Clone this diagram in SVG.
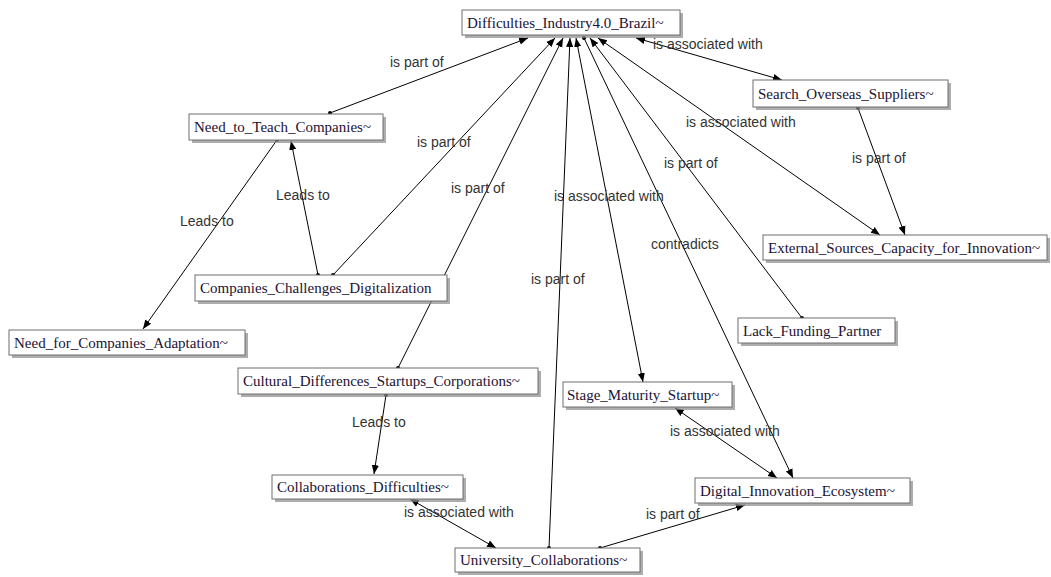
<svg xmlns="http://www.w3.org/2000/svg" width="1051" height="577" viewBox="0 0 1051 577">
<defs>
<marker id="ah" viewBox="0 0 10 10" refX="10" refY="5" markerWidth="9" markerHeight="9" markerUnits="userSpaceOnUse" orient="auto-start-reverse"><path d="M0,1 L10,5 L0,9 z" fill="#000"/></marker>
<marker id="dot" viewBox="0 0 6 6" refX="3" refY="3" markerWidth="4" markerHeight="4" markerUnits="userSpaceOnUse"><circle cx="3" cy="3" r="3" fill="#000"/></marker>
</defs>
<style>
.sh{fill:#8a8a8a;opacity:0.7}
.box{fill:#fff;stroke:#6e6e6e;stroke-width:1}
.nt{font-family:"Liberation Serif",serif;font-size:15px;fill:#221133}
.e{stroke:#000;stroke-width:1;fill:none}
.lb{font-family:"Liberation Sans",sans-serif;font-size:14px;fill:#333}
</style>
<rect width="1051" height="577" fill="#fff"/>
<g id="connectors">
<line class="e" x1="330" y1="113" x2="528" y2="38" marker-start="url(#dot)" marker-end="url(#ah)"/>
<line class="e" x1="333" y1="275" x2="555" y2="38" marker-start="url(#dot)" marker-end="url(#ah)"/>
<line class="e" x1="398" y1="368" x2="563" y2="38" marker-start="url(#dot)" marker-end="url(#ah)"/>
<line class="e" x1="549" y1="548" x2="570" y2="38" marker-start="url(#dot)" marker-end="url(#ah)"/>
<line class="e" x1="643" y1="382" x2="576" y2="38" marker-start="url(#ah)" marker-end="url(#ah)"/>
<line class="e" x1="584" y1="38" x2="793" y2="478" marker-start="url(#dot)" marker-end="url(#ah)"/>
<line class="e" x1="802" y1="318" x2="590" y2="38" marker-start="url(#dot)" marker-end="url(#ah)"/>
<line class="e" x1="880" y1="235" x2="598" y2="38" marker-start="url(#ah)" marker-end="url(#ah)"/>
<line class="e" x1="636" y1="38" x2="782" y2="80" marker-start="url(#ah)" marker-end="url(#ah)"/>
<line class="e" x1="858" y1="108" x2="905" y2="235" marker-start="url(#dot)" marker-end="url(#ah)"/>
<line class="e" x1="277" y1="140" x2="143" y2="329" marker-start="url(#dot)" marker-end="url(#ah)"/>
<line class="e" x1="318" y1="275" x2="291" y2="141" marker-start="url(#dot)" marker-end="url(#ah)"/>
<line class="e" x1="386" y1="395" x2="374" y2="474" marker-start="url(#dot)" marker-end="url(#ah)"/>
<line class="e" x1="410" y1="499" x2="496" y2="548" marker-start="url(#ah)" marker-end="url(#ah)"/>
<line class="e" x1="600" y1="548" x2="745" y2="505" marker-start="url(#dot)" marker-end="url(#ah)"/>
<line class="e" x1="675" y1="408" x2="777" y2="478" marker-start="url(#ah)" marker-end="url(#ah)"/>
<text class="lb" x="390" y="67">is part of</text>
<text class="lb" x="417" y="147">is part of</text>
<text class="lb" x="451" y="193">is part of</text>
<text class="lb" x="531" y="284">is part of</text>
<text class="lb" x="554" y="201">is associated with</text>
<text class="lb" x="651" y="249">contradicts</text>
<text class="lb" x="664" y="168">is part of</text>
<text class="lb" x="686" y="127">is associated with</text>
<text class="lb" x="653" y="49">is associated with</text>
<text class="lb" x="852" y="163">is part of</text>
<text class="lb" x="180" y="226">Leads to</text>
<text class="lb" x="276" y="200">Leads to</text>
<text class="lb" x="352" y="427">Leads to</text>
<text class="lb" x="404" y="517">is associated with</text>
<text class="lb" x="646" y="519">is part of</text>
<text class="lb" x="670" y="436">is associated with</text>
</g>
<g id="n1"><rect class="sh" x="465" y="13" width="218" height="25"/><rect class="box" x="462" y="10" width="218" height="25"/><text class="nt" x="467" y="28">Difficulties_Industry4.0_Brazil~</text></g>
<g id="n2"><rect class="sh" x="192" y="117" width="194" height="26"/><rect class="box" x="189" y="114" width="194" height="26"/><text class="nt" x="194" y="132">Need_to_Teach_Companies~</text></g>
<g id="n3"><rect class="sh" x="12" y="333" width="236" height="25"/><rect class="box" x="9" y="330" width="236" height="25"/><text class="nt" x="14" y="348">Need_for_Companies_Adaptation~</text></g>
<g id="n4"><rect class="sh" x="198" y="278" width="252" height="26"/><rect class="box" x="195" y="275" width="252" height="26"/><text class="nt" x="200" y="293">Companies_Challenges_Digitalization</text></g>
<g id="n5"><rect class="sh" x="241" y="371" width="300" height="26"/><rect class="box" x="238" y="368" width="300" height="26"/><text class="nt" x="243" y="386">Cultural_Differences_Startups_Corporations~</text></g>
<g id="n6"><rect class="sh" x="566" y="385" width="169" height="25"/><rect class="box" x="563" y="382" width="169" height="25"/><text class="nt" x="567" y="400">Stage_Maturity_Startup~</text></g>
<g id="n7"><rect class="sh" x="756" y="83" width="195" height="27"/><rect class="box" x="753" y="80" width="195" height="27"/><text class="nt" x="758" y="99">Search_Overseas_Suppliers~</text></g>
<g id="n8"><rect class="sh" x="766" y="238" width="284" height="25"/><rect class="box" x="763" y="235" width="284" height="25"/><text class="nt" x="768" y="253">External_Sources_Capacity_for_Innovation~</text></g>
<g id="n9"><rect class="sh" x="741" y="321" width="157" height="25"/><rect class="box" x="738" y="318" width="157" height="25"/><text class="nt" x="743" y="336">Lack_Funding_Partner</text></g>
<g id="n10"><rect class="sh" x="275" y="478" width="191" height="24"/><rect class="box" x="272" y="475" width="191" height="24"/><text class="nt" x="277" y="492">Collaborations_Difficulties~</text></g>
<g id="n11"><rect class="sh" x="698" y="481" width="215" height="25"/><rect class="box" x="695" y="478" width="215" height="25"/><text class="nt" x="700" y="496">Digital_Innovation_Ecosystem~</text></g>
<g id="n12"><rect class="sh" x="458" y="551" width="185" height="24"/><rect class="box" x="455" y="548" width="185" height="24"/><text class="nt" x="460" y="565">University_Collaborations~</text></g>
</svg>
